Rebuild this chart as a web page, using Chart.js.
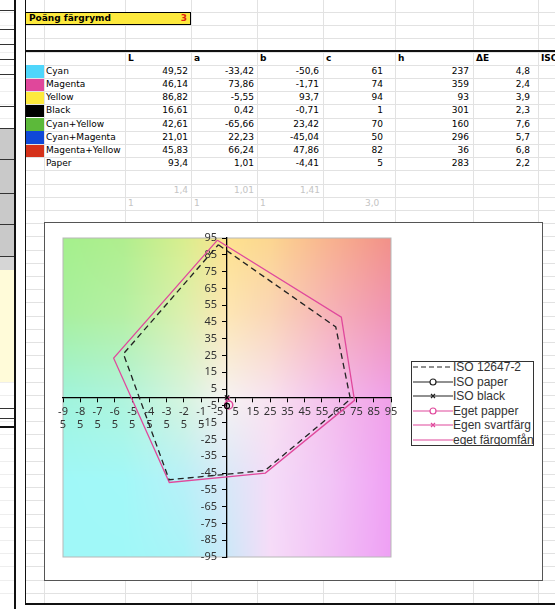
<!DOCTYPE html>
<html>
<head>
<meta charset="utf-8">
<script src="https://cdn.jsdelivr.net/npm/chart.js@4.4.1/dist/chart.umd.min.js"></script>
<style>
body {
    margin: 0;
    width: 555px;
    height: 609px;
    overflow: hidden;
    background: #fff;
    position: relative;
    font-family: "DejaVu Sans", sans-serif;
    font-size: 9px;
}
.hline { position: absolute; height: 1px; background: #e2e2e2; }
.vline { position: absolute; width: 1px; background: #e2e2e2; }
.dark { background: #111; }
.cell {
    position: absolute;
    height: 13px;
    line-height: 13px;
    white-space: nowrap;
    overflow: hidden;
    color: #000;
}
.num { text-align: right; }
.head { font-weight: bold; }
.faint { color: #c4c4c4; }
#score {
    position: absolute;
    left: 25px; top: 12px;
    width: 166px; height: 13px;
    box-sizing: border-box;
    background: #fde93d;
    border: 1px solid #000;
    font-weight: bold;
    line-height: 11px;
    padding-left: 3px;
}
#score span { position: absolute; right: 3px; top: 0; color: #e02010; }
#frame {
    position: absolute;
    left: 44px; top: 222px;
    width: 499px; height: 359px;
    box-sizing: border-box;
    border: 1px solid #555;
    background: #fff;
}
#chart-box { position: absolute; left: 0; top: 0; width: 497px; height: 357px; }
#legend {
    position: absolute;
    left: 411px; top: 361px;
    width: 123px; height: 85px;
    box-sizing: border-box;
    border: 1px solid #333;
    background: #fff;
    overflow: hidden;
    font-family: "Liberation Sans", sans-serif;
    font-size: 12px;
    color: #333;
}
#legend .row { height: 14.5px; line-height: 14.5px; white-space: nowrap; display: flex; align-items: center; }
#legend svg { flex: none; margin-left: 1px; }
</style>
</head>
<body>

<div id="sheet"></div>
<div id="score">Poäng färgrymd<span>3</span></div>

<div id="frame"><div id="chart-box"><canvas id="gamut-chart"></canvas></div></div>
<div id="legend"></div>

<script>
// <-- table data (CIELAB measurements) -->
const patchNames = ["Cyan", "Magenta", "Yellow", "Black", "Cyan+Yellow", "Cyan+Magenta", "Magenta+Yellow", "Paper"];
const lValues = [49.52, 46.14, 86.82, 16.61, 42.61, 21.01, 45.83, 93.4];
const aValues = [-33.42, 73.86, -5.55, 0.42, -65.66, 22.23, 66.24, 1.01];
const bValues = [-50.6, -1.71, 93.7, -0.71, 23.42, -45.04, 47.86, -4.41];
const cValues = [61, 74, 94, 1, 70, 50, 82, 5];
const hValues = [237, 359, 93, 301, 160, 296, 36, 283];
const deltaE = [4.8, 2.4, 3.9, 2.3, 7.6, 5.7, 6.8, 2.2];
const headers = ["L", "a", "b", "c", "h", "ΔE", "ISO"];

// grey helper rows under the table
const refRow1 = ["1,4", "1,01", "1,41"];
const refRow2 = ["1", "1", "1", "3,0"];

// ISO 12647-2 reference gamut (a, b), same order as the polygon
const isoA = [-5, 63, 71.5, 22, -33.5, -60, -5];
const isoB = [91, 42, -1, -43.5, -49, 26, 91];
const isoPaper = [0, -5];
const isoBlack = [0, 0];

// polygon order through the table rows: Yellow, M+Y, Magenta, C+M, Cyan, C+Y, Yellow
const gamutOrder = [2, 6, 1, 5, 0, 4, 2];
const paperIndex = 7;
const blackIndex = 3;

const axisMin = -95;
const axisMax = 95;
const axisStep = 10;

// styles
const swatches = ["#4fd6fb", "#e0479b", "#fde93d", "#000000", "#5cb93a", "#0f48d8", "#d5311a", null];
const pink = "#e0489c";

// <-- build the spreadsheet around the chart -->
const sheet = document.getElementById("sheet");
const rowTop = k => 12 + 13.2 * k;
const colEdges = [25, 44, 125, 191, 257, 323, 395, 473, 538, 600];
const padRight = [3, 3, 4, 12, 4, 8];

let html = "";
for (let k = -1; k < 45; k++) {
    html += `<div class="hline" style="left:25px;width:530px;top:${Math.round(rowTop(k))}px"></div>`;
    html += `<div class="hline" style="left:0;width:14px;top:${Math.round(rowTop(k))}px;background:#eee"></div>`;
}
colEdges.slice(1, 9).forEach(x => {
    html += `<div class="vline" style="left:${x}px;top:0;height:604px"></div>`;
});

// left strip blocks
html += `<div style="position:absolute;left:0;top:128px;width:14px;height:128px;background:#c9c9c9"></div>`;
html += `<div style="position:absolute;left:0;top:256px;width:14px;height:14px;background:#d6d6d6"></div>`;
html += `<div style="position:absolute;left:0;top:270px;width:14px;height:112px;background:#fffbd9"></div>`;
[10, 29, 44, 59, 74, 106, 128, 159, 193, 224, 256, 408, 418].forEach(y => {
    html += `<div class="hline dark" style="left:0;width:14px;top:${y}px;background:#333"></div>`;
});
html += `<div class="hline dark" style="left:0;width:15px;top:426px;height:2px"></div>`;
html += `<div class="vline dark" style="left:14px;top:0;height:609px;width:2px"></div>`;
html += `<div class="vline dark" style="left:25px;top:0;height:604px"></div>`;
html += `<div class="hline dark" style="left:25px;width:530px;top:50px;height:2px"></div>`;
html += `<div class="hline dark" style="left:25px;width:530px;top:603px;height:2px"></div>`;

const fmt = v => String(v).replace(".", ",");

const cell = (col, k, text, cls, extra) => {
    const left = colEdges[col];
    const width = colEdges[col + 1] - left;
    return `<div class="cell ${cls || ""}" style="left:${left + 1}px;top:${rowTop(k)}px;width:${width - 1}px;${extra || ""}">${text}</div>`;
};

// header row
headers.forEach((h, i) => {
    html += cell(i + 2, 3, h, "head", "padding-left:2px;box-sizing:border-box");
});

// data rows
patchNames.forEach((name, r) => {
    const k = 4 + r;
    if (swatches[r]) {
        html += `<div style="position:absolute;left:26px;top:${rowTop(k) + 0.5}px;width:18px;height:12.5px;background:${swatches[r]}"></div>`;
    }
    html += cell(1, k, name, "", "padding-left:1px;box-sizing:border-box");
    [lValues, aValues, bValues, cValues, hValues, deltaE].forEach((arr, c) => {
        html += cell(c + 2, k, fmt(arr[r]), "num", `padding-right:${padRight[c]}px;box-sizing:border-box`);
    });
});

refRow1.forEach((t, c) => {
    html += cell(c + 2, 13, t, "num faint", "padding-right:3px;box-sizing:border-box");
});
refRow2.forEach((t, c) => {
    const style = c === 3 ? "padding-left:41px;box-sizing:border-box" : "padding-left:2px;box-sizing:border-box";
    html += cell(c + 2, 14, t, "faint", style);
});

sheet.innerHTML = html;


// <-- legend (Excel style: line with marker in the middle) -->
const legendItems = [
    { label: "ISO 12647-2", color: "#222", dash: "5,3", marker: null },
    { label: "ISO paper", color: "#222", dash: null, marker: "circle" },
    { label: "ISO black", color: "#222", dash: null, marker: "cross" },
    { label: "Eget papper", color: pink, dash: null, marker: "circle" },
    { label: "Egen svartfärg", color: pink, dash: null, marker: "cross" },
    { label: "eget färgomfång", color: pink, dash: null, marker: null }
];

const legend = document.getElementById("legend");
legend.innerHTML = legendItems.map((item, i) => {
    let mark = "";
    if (item.marker === "circle") {
        mark = `<circle cx="20" cy="7" r="3" fill="#fff" stroke="${item.color}" stroke-width="1.2"/>`;
    } else if (item.marker === "cross") {
        mark = `<path d="M18 5 L22 9 M22 5 L18 9" stroke="${item.color}" stroke-width="1.2"/>`;
    }
    const dash = item.dash ? `stroke-dasharray="${item.dash}"` : "";
    return `<div class="row" style="margin-top:${i === 0 ? -2 : 0}px">
        <svg width="40" height="14"><line x1="0" y1="7" x2="40" y2="7" stroke="${item.color}" stroke-width="1.2" ${dash}/>${mark}</svg>
        <span>${item.label}</span></div>`;
}).join("");


// <-- gradient colour field behind the a/b plane -->
const fieldA = [-95, -60, -25, 0, 25, 60, 95];
const fieldB = [95, 50, 0, -50, -95];
const fieldColors = [
    ["#a4f08c", "#b0ee8e", "#d8ee8e", "#fde28e", "#fcd690", "#f8b28e", "#f29088"],
    ["#a8f09e", "#b6f0a4", "#dcf0ae", "#fde6b4", "#fad6b6", "#f6b2b8", "#f094b4"],
    ["#a0f4dc", "#b0f4dc", "#d6f4de", "#f6f2f2", "#f8e2f0", "#f4bfec", "#f0a0e8"],
    ["#a0f8f8", "#a2f8f8", "#b8f0f8", "#d8e8f8", "#f4dcf8", "#f2c4f6", "#f0a0f4"],
    ["#a0f8f8", "#a0f8f8", "#a8f4f8", "#cce8f8", "#f6dcf8", "#f2c0f6", "#eea0f4"]
];
const toRgb = hex => [1, 3, 5].map(i => parseInt(hex.substr(i, 2), 16));
const fieldRgb = fieldColors.map(row => row.map(toRgb));

const findSpan = (arr, v, desc) => {
    for (let i = 0; i < arr.length - 1; i++) {
        const lo = arr[i], hi = arr[i + 1];
        const inside = desc ? (v <= lo && v >= hi) : (v >= lo && v <= hi);
        if (inside) return [i, (v - lo) / (hi - lo)];
    }
    return desc ? (v > arr[0] ? [0, 0] : [arr.length - 2, 1]) : (v < arr[0] ? [0, 0] : [arr.length - 2, 1]);
};

const plotBackground = {
    id: "plotBackground",
    beforeDraw(chart) {
        const { ctx, chartArea } = chart;
        const { left, top, width, height } = chartArea;
        const xs = chart.scales.x, ys = chart.scales.y;
        const w = Math.round(width), h = Math.round(height);
        const off = document.createElement("canvas");
        off.width = w; off.height = h;
        const octx = off.getContext("2d");
        const img = octx.createImageData(w, h);
        for (let py = 0; py < h; py++) {
            const b = ys.getValueForPixel(top + py + 0.5);
            const [j, u] = findSpan(fieldB, b, true);
            for (let px = 0; px < w; px++) {
                const a = xs.getValueForPixel(left + px + 0.5);
                const [i, t] = findSpan(fieldA, a, false);
                const c00 = fieldRgb[j][i], c01 = fieldRgb[j][i + 1];
                const c10 = fieldRgb[j + 1][i], c11 = fieldRgb[j + 1][i + 1];
                const o = (py * w + px) * 4;
                for (let n = 0; n < 3; n++) {
                    const topMix = c00[n] + (c01[n] - c00[n]) * t;
                    const botMix = c10[n] + (c11[n] - c10[n]) * t;
                    img.data[o + n] = topMix + (botMix - topMix) * u;
                }
                img.data[o + 3] = 255;
            }
        }
        octx.putImageData(img, 0, 0);
        ctx.save();
        ctx.drawImage(off, left, top, width, height);
        ctx.strokeStyle = "#b8b8b8";
        ctx.lineWidth = 1;
        ctx.strokeRect(left, top, width, height);
        ctx.restore();
    }
};


// <-- a/b gamut scatter chart -->
const isoPolygon = isoA.map((a, i) => ({ x: a, y: isoB[i] }));
const ownPolygon = gamutOrder.map(i => ({ x: aValues[i], y: bValues[i] }));

const tickFont = { family: "Noto Sans", size: 11 };

const gamutCanvas = document.getElementById("gamut-chart");

// both axes cross at 0, which is the middle of the symmetric -95..95 range
const gamutChart = new Chart(gamutCanvas, {
    type: "scatter",
    data: {
        datasets: [{
            label: "ISO 12647-2",
            data: isoPolygon,
            showLine: true,
            borderColor: "#222",
            borderWidth: 1.3,
            borderDash: [6, 4],
            pointRadius: 0
        }, {
            label: "ISO paper",
            data: [{ x: isoPaper[0], y: isoPaper[1] }],
            pointStyle: "circle",
            pointRadius: 2.5,
            borderColor: "#000",
            backgroundColor: "rgba(0,0,0,0)",
            borderWidth: 1.2
        }, {
            label: "ISO black",
            data: [{ x: isoBlack[0], y: isoBlack[1] }],
            pointStyle: "crossRot",
            pointRadius: 3,
            borderColor: "#000",
            borderWidth: 1.2
        }, {
            label: "Eget papper",
            data: [{ x: aValues[paperIndex], y: bValues[paperIndex] }],
            pointStyle: "circle",
            pointRadius: 4,
            borderColor: pink,
            backgroundColor: "rgba(0,0,0,0)",
            borderWidth: 1.5
        }, {
            label: "Egen svartfärg",
            data: [{ x: aValues[blackIndex], y: bValues[blackIndex] }],
            pointStyle: "crossRot",
            pointRadius: 3,
            borderColor: pink,
            borderWidth: 1.2
        }, {
            label: "eget färgomfång",
            data: ownPolygon,
            showLine: true,
            borderColor: pink,
            borderWidth: 1.3,
            pointRadius: 0
        }]
    },
    options: {
        responsive: true,
        maintainAspectRatio: false,
        animation: false,
        layout: {
            padding: { left: 18, top: 15, right: 151, bottom: 23 }
        },
        plugins: {
            legend: { display: false },
            tooltip: { enabled: false }
        },
        scales: {
            x: {
                type: "linear",
                min: axisMin,
                max: axisMax,
                position: "center",
                ticks: {
                    stepSize: axisStep,
                    autoSkip: false,
                    maxRotation: 0,
                    padding: 4,
                    color: "#333",
                    font: tickFont,
                    // Excel wraps the long negative labels onto two lines
                    callback: v => (v <= -15 ? [String(v).slice(0, 2), String(v).slice(2)] : String(v))
                },
                grid: { drawOnChartArea: false, tickLength: 4, color: "#000" },
                border: { color: "#000", width: 1.3 }
            },
            y: {
                type: "linear",
                min: axisMin,
                max: axisMax,
                position: "center",
                ticks: {
                    stepSize: axisStep,
                    autoSkip: false,
                    padding: 6,
                    color: "#333",
                    font: tickFont
                },
                grid: { drawOnChartArea: false, tickLength: 4, color: "#000" },
                border: { color: "#000", width: 1.3 }
            }
        }
    },
    plugins: [plotBackground]
});
</script>
</body>
</html>
